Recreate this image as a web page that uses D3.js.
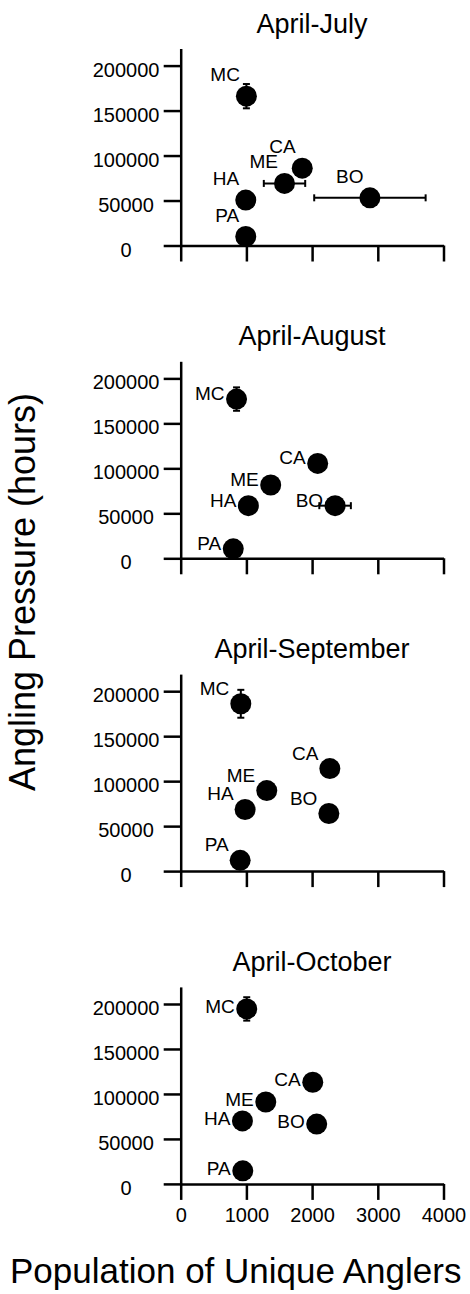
<!DOCTYPE html>
<html>
<head>
<meta charset="utf-8">
<script src="https://cdn.jsdelivr.net/npm/d3@7"></script>
<style>
  body { margin: 0; background: #fff; }
  svg { display: block; }
</style>
</head>
<body>
<div id="chart"></div>
<script>
// sites, same order in every array below
var sites = ["MC", "CA", "ME", "HA", "PA", "BO"];
var periods = ["April-July", "April-August", "April-September", "April-October"];

// population of unique anglers (x)
var anglersJul = [1000, 1850, 1580, 990, 990, 2880];
var anglersAug = [850, 2085, 1370, 1030, 800, 2350];
var anglersSep = [915, 2270, 1310, 980, 905, 2255];
var anglersOct = [1005, 2010, 1295, 940, 945, 2070];

// angling pressure, hours (y)
var hoursJul = [166000, 86000, 69000, 50500, 10000, 53000];
var hoursAug = [177000, 105500, 81500, 58500, 10500, 58500];
var hoursSep = [186000, 114000, 89500, 68500, 12000, 64000];
var hoursOct = [194500, 113000, 91000, 70000, 14500, 66500];

// error bars (only the ones that show outside the dots)
var anglersErrJul = [0, 0, 315, 0, 0, 848];
var anglersErrAug = [0, 0, 0, 0, 0, 240];
var anglersErrSep = [0, 0, 0, 0, 0, 0];
var anglersErrOct = [0, 0, 0, 0, 0, 0];
var hoursErrJul = [13500, 0, 0, 0, 0, 0];
var hoursErrAug = [13000, 0, 0, 0, 0, 0];
var hoursErrSep = [15500, 0, 0, 0, 0, 0];
var hoursErrOct = [13000, 0, 0, 0, 0, 0];

var xTicks = [0, 1000, 2000, 3000, 4000];
var yTicks = [0, 50000, 100000, 150000, 200000];

var allX = [anglersJul, anglersAug, anglersSep, anglersOct];
var allY = [hoursJul, hoursAug, hoursSep, hoursOct];
var allXErr = [anglersErrJul, anglersErrAug, anglersErrSep, anglersErrOct];
var allYErr = [hoursErrJul, hoursErrAug, hoursErrSep, hoursErrOct];

// layout
var W = 470, H = 1294;
var font = "'Liberation Sans', Arial, sans-serif";
var firstZero = 245.5, panelStep = 312.8;
var axisH = 197;
// label offset from dot centre (text-anchor end), one per panel
var labelOff = [[-6.5, -15], [-12, 1], [-11.5, -9], [-12, 4]];

var svg = d3.select("#chart").append("svg")
    .attr("width", W).attr("height", H)
    .style("font-family", font);

var x = d3.scaleLinear().domain([0, 4000]).range([180.7, 443.5]);

periods.forEach(function(name, i) {
  var y0 = firstZero + i * panelStep;
  var y = d3.scaleLinear().domain([0, 219000]).range([y0, y0 - axisH]);
  var g = svg.append("g");

  // title
  g.append("text")
      .attr("x", 312).attr("y", y0 - 213)
      .attr("text-anchor", "middle")
      .style("font-size", "27px")
      .text(name);

  // y axis
  var ya = g.append("g")
      .attr("transform", "translate(" + x(0) + ",0)")
      .call(d3.axisLeft(y).tickValues(yTicks).tickSize(17).tickSizeOuter(0).tickFormat(d3.format("d")));
  ya.selectAll("path, line").attr("stroke", "#000").attr("stroke-width", 2.5);
  ya.selectAll("text")
      .attr("x", 126 - x(0)).attr("dy", null).attr("y", 10.5)
      .attr("text-anchor", "middle")
      .attr("fill", "#000")
      .style("font-size", "20px").style("font-family", font);

  // x axis
  var last = i == periods.length - 1;
  var xa = g.append("g")
      .attr("transform", "translate(0," + y0 + ")")
      .call(d3.axisBottom(x).tickValues(xTicks).tickSize(16).tickSizeOuter(0)
        .tickFormat(last ? d3.format("d") : function() { return ""; }));
  xa.selectAll("path, line").attr("stroke", "#000").attr("stroke-width", 2.5);
  xa.selectAll("text")
      .attr("dy", null).attr("y", 38)
      .attr("fill", "#000")
      .style("font-size", "20px").style("font-family", font);

  var pts = sites.map(function(s, k) {
    return {site: s, ax: allX[i][k], hy: allY[i][k], ex: allXErr[i][k], ey: allYErr[i][k]};
  });

  // error bars
  var cap = 3.5;
  pts.forEach(function(p) {
    if (p.ex > 0) {
      var cy = y(p.hy), l = x(p.ax - p.ex), r = x(p.ax + p.ex);
      g.append("line").attr("x1", l).attr("x2", r).attr("y1", cy).attr("y2", cy)
          .attr("stroke", "#000").attr("stroke-width", 2);
      [l, r].forEach(function(e) {
        g.append("line").attr("x1", e).attr("x2", e).attr("y1", cy - cap).attr("y2", cy + cap)
            .attr("stroke", "#000").attr("stroke-width", 2);
      });
    }
    if (p.ey > 0) {
      var cx = x(p.ax), t = y(p.hy + p.ey), b = y(p.hy - p.ey);
      g.append("line").attr("x1", cx).attr("x2", cx).attr("y1", t).attr("y2", b)
          .attr("stroke", "#000").attr("stroke-width", 2);
      [t, b].forEach(function(e) {
        g.append("line").attr("x1", cx - cap).attr("x2", cx + cap).attr("y1", e).attr("y2", e)
            .attr("stroke", "#000").attr("stroke-width", 2);
      });
    }
  });

  g.selectAll("circle.dot").data(pts).enter().append("circle")
      .attr("class", "dot")
      .attr("cx", function(d) { return x(d.ax); })
      .attr("cy", function(d) { return y(d.hy); })
      .attr("r", 10.5)
      .attr("fill", "#000");

  g.selectAll("text.lab").data(pts).enter().append("text")
      .attr("class", "lab")
      .attr("x", function(d) { return x(d.ax) + labelOff[i][0]; })
      .attr("y", function(d) { return y(d.hy) + labelOff[i][1]; })
      .attr("text-anchor", "end")
      .style("font-size", "19px")
      .text(function(d) { return d.site; });
});

// axis titles
svg.append("text")
    .attr("transform", "translate(35,592) rotate(-90)")
    .attr("text-anchor", "middle")
    .style("font-size", "36px")
    .text("Angling Pressure (hours)");

svg.append("text")
    .attr("x", 10).attr("y", 1283)
    .style("font-size", "35px")
    .text("Population of Unique Anglers");
</script>
</body>
</html>
